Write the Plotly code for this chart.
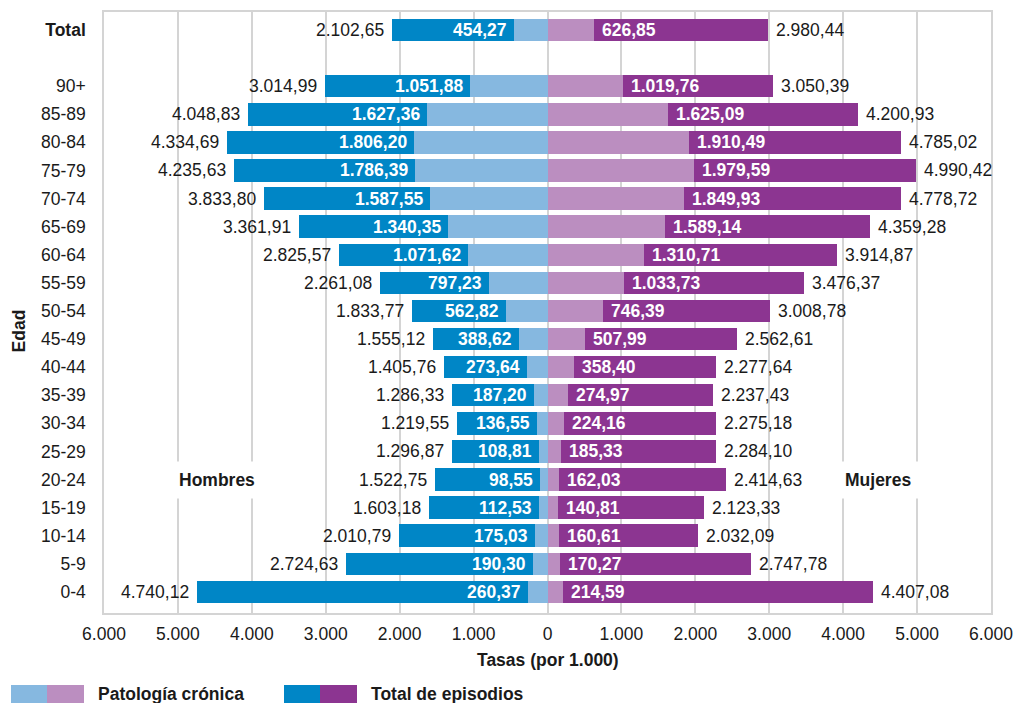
import plotly.graph_objects as go

# Grupos de edad (de arriba abajo) y posiciones verticales en el eje
grupos = ["Total", "90+", "85-89", "80-84", "75-79", "70-74", "65-69", "60-64",
          "55-59", "50-54", "45-49", "40-44", "35-39", "30-34", "25-29",
          "20-24", "15-19", "10-14", "5-9", "0-4"]
posiciones = [20] + list(range(18, -1, -1))

# Tasas por 1.000 habitantes
hombres_total = [2102.65, 3014.99, 4048.83, 4334.69, 4235.63, 3833.80, 3361.91,
                 2825.57, 2261.08, 1833.77, 1555.12, 1405.76, 1286.33, 1219.55,
                 1296.87, 1522.75, 1603.18, 2010.79, 2724.63, 4740.12]
hombres_cronica = [454.27, 1051.88, 1627.36, 1806.20, 1786.39, 1587.55, 1340.35,
                   1071.62, 797.23, 562.82, 388.62, 273.64, 187.20, 136.55,
                   108.81, 98.55, 112.53, 175.03, 190.30, 260.37]
mujeres_total = [2980.44, 3050.39, 4200.93, 4785.02, 4990.42, 4778.72, 4359.28,
                 3914.87, 3476.37, 3008.78, 2562.61, 2277.64, 2237.43, 2275.18,
                 2284.10, 2414.63, 2123.33, 2032.09, 2747.78, 4407.08]
mujeres_cronica = [626.85, 1019.76, 1625.09, 1910.49, 1979.59, 1849.93, 1589.14,
                   1310.71, 1033.73, 746.39, 507.99, 358.40, 274.97, 224.16,
                   185.33, 162.03, 140.81, 160.61, 170.27, 214.59]

ticks_x = [-6000, -5000, -4000, -3000, -2000, -1000, 0, 1000, 2000, 3000, 4000, 5000, 6000]

AZUL = "#0086C6"
AZUL_CLARO = "#86B8E0"
MORADO = "#8C3591"
MORADO_CLARO = "#BB8EC0"
GRIS = "#D4D4D4"
NEGRO = "#1A1A1A"
FUENTE = "Liberation Sans, Arial, sans-serif"
TAM = 17.5


def formato_es(v, dec=2):
    s = f"{v:,.{dec}f}"
    return s.replace(",", "X").replace(".", ",").replace("X", ".")


fig = go.Figure()

fig.add_trace(go.Bar(y=posiciones, x=[-v for v in hombres_total], orientation="h",
                     marker=dict(color=AZUL, line=dict(width=0)), width=0.8,
                     hoverinfo="skip", showlegend=False))
fig.add_trace(go.Bar(y=posiciones, x=[-v for v in hombres_cronica], orientation="h",
                     marker=dict(color=AZUL_CLARO, line=dict(width=0)), width=0.8,
                     hoverinfo="skip", showlegend=False))
fig.add_trace(go.Bar(y=posiciones, x=mujeres_total, orientation="h",
                     marker=dict(color=MORADO, line=dict(width=0)), width=0.8,
                     hoverinfo="skip", showlegend=False))
fig.add_trace(go.Bar(y=posiciones, x=mujeres_cronica, orientation="h",
                     marker=dict(color=MORADO_CLARO, line=dict(width=0)), width=0.8,
                     hoverinfo="skip", showlegend=False))

anotaciones = []
for y, ht, hc, mt, mc in zip(posiciones, hombres_total, hombres_cronica,
                             mujeres_total, mujeres_cronica):
    anotaciones.append(dict(x=-ht, y=y, text=formato_es(ht), xanchor="right",
                            xshift=-6, showarrow=False,
                            font=dict(family=FUENTE, size=TAM, color=NEGRO)))
    anotaciones.append(dict(x=mt, y=y, text=formato_es(mt), xanchor="left",
                            xshift=6, showarrow=False,
                            font=dict(family=FUENTE, size=TAM, color=NEGRO)))
    anotaciones.append(dict(x=-hc, y=y, text="<b>" + formato_es(hc) + "</b>",
                            xanchor="right", xshift=-5, showarrow=False,
                            font=dict(family=FUENTE, size=TAM, color="white")))
    anotaciones.append(dict(x=mc, y=y, text="<b>" + formato_es(mc) + "</b>",
                            xanchor="left", xshift=6, showarrow=False,
                            font=dict(family=FUENTE, size=TAM, color="white")))

# Rótulos de sexo
for x, texto in [(-4470, "Hombres"), (4470, "Mujeres")]:
    anotaciones.append(dict(x=x, y=4, text="<b>" + texto + "</b>", showarrow=False,
                            bgcolor="white", borderpad=8,
                            font=dict(family=FUENTE, size=TAM, color=NEGRO)))

# Títulos de ejes
anotaciones.append(dict(xref="paper", yref="paper", x=0.5, y=-0.078,
                        text="<b>Tasas (por 1.000)</b>", showarrow=False,
                        xanchor="center", yanchor="middle",
                        font=dict(family=FUENTE, size=TAM, color=NEGRO)))
anotaciones.append(dict(xref="paper", yref="paper", x=-0.096, y=0.47,
                        text="<b>Edad</b>", showarrow=False, textangle=-90,
                        xanchor="center", yanchor="middle",
                        font=dict(family=FUENTE, size=TAM, color=NEGRO)))

# Leyenda inferior con muestras dobles (hombres / mujeres)
formas = []
ALTO = 601
def py(pix):
    return -(pix - 613) / ALTO

ANCHO = 887
def px(pix):
    return (pix - 104) / ANCHO

for x0, c1, c2, texto in [(11, AZUL_CLARO, MORADO_CLARO, "Patología crónica"),
                          (284, AZUL, MORADO, "Total de episodios")]:
    formas.append(dict(type="rect", xref="paper", yref="paper",
                       x0=px(x0), x1=px(x0 + 36), y0=py(710), y1=py(685),
                       fillcolor=c1, line=dict(width=0)))
    formas.append(dict(type="rect", xref="paper", yref="paper",
                       x0=px(x0 + 36), x1=px(x0 + 73), y0=py(710), y1=py(685),
                       fillcolor=c2, line=dict(width=0)))
    anotaciones.append(dict(xref="paper", yref="paper", x=px(x0 + 85), y=py(694),
                            text="<b>" + texto + "</b>", showarrow=False,
                            xanchor="left", yanchor="middle",
                            font=dict(family=FUENTE, size=TAM, color=NEGRO)))

etiquetas_y = ["<b>Total</b>"] + grupos[1:]

fig.update_layout(
    width=1014, height=703,
    margin=dict(l=104, r=23, t=12, b=90),
    paper_bgcolor="white", plot_bgcolor="white",
    barmode="overlay", bargap=0,
    font=dict(family=FUENTE, size=TAM, color=NEGRO),
    annotations=anotaciones, shapes=formas,
    xaxis=dict(range=[-6000, 6000], tickvals=ticks_x,
               ticktext=[formato_es(abs(v), 0) for v in ticks_x],
               showgrid=True, gridcolor=GRIS, gridwidth=1.5,
               zeroline=True, zerolinecolor=GRIS, zerolinewidth=1.5,
               showline=True, linecolor=GRIS, linewidth=1.5, mirror=True,
               ticks="", ticklabelstandoff=4, automargin=False,
               tickfont=dict(family=FUENTE, size=TAM, color=NEGRO)),
    yaxis=dict(range=[-0.75, 20.64], tickvals=posiciones, ticktext=etiquetas_y,
               showgrid=False, zeroline=False,
               showline=True, linecolor=GRIS, linewidth=1.5, mirror=True,
               ticks="", ticklabelstandoff=13, automargin=False,
               tickfont=dict(family=FUENTE, size=TAM, color=NEGRO)),
)

fig.write_html("out.html")
